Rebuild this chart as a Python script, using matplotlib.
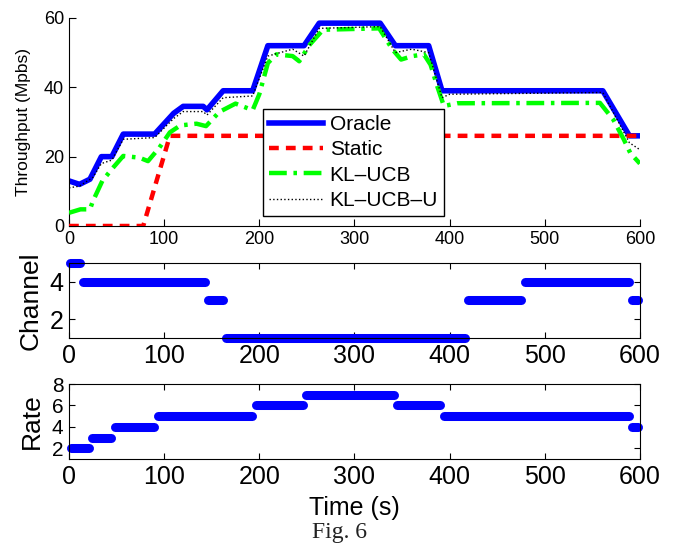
import numpy as np
import matplotlib
matplotlib.use('Agg')
import matplotlib.pyplot as plt

plt.rcParams['font.family'] = ['Liberation Sans', 'DejaVu Sans']

# throughput curves (time s, Mbps)
oracle_t = [0, 11, 22, 34, 45, 57, 90, 100, 110, 120, 141, 145, 162, 193, 209, 247, 263, 327, 343, 378, 392, 561, 589, 600]
oracle_v = [13, 12, 13.5, 20, 20, 26.5, 26.5, 29.5, 32.5, 34.5, 34.5, 33.5, 39, 39, 52, 52, 58.5, 58.5, 52, 52, 39, 39, 26, 26]

static_t = [0, 78, 106, 600]
static_v = [0, 0, 26, 26]

klucb_t = [0, 12, 22, 25, 35, 45, 57, 74, 83, 95, 106, 117, 134, 144, 158, 175, 193, 200, 209, 218,
           235, 242, 253, 267, 326, 340, 349, 361, 373, 380, 387, 394, 408, 558, 572, 583, 590, 600]
klucb_v = [3.8, 4.8, 4.8, 7.1, 13, 16.4, 20.2, 19.7, 18.7, 22.6, 27, 29, 29.5, 28.8, 32.9, 35.3, 33.4, 38, 47, 49.5,
           49, 47.5, 52.3, 56.6, 57, 50.9, 48, 49, 49.5, 46.5, 40.3, 34.6, 35.4, 35.5, 30.7, 25, 21, 18]

klucbu_t = [0, 11, 25, 34, 45, 57, 90, 110, 120, 141, 145, 162, 193, 209, 235, 247, 263, 327, 343, 360, 378, 392, 400, 561, 589, 600]
klucbu_v = [11, 11.5, 14, 18, 19, 25, 25.5, 31, 33, 33, 32, 37, 37.5, 49, 51, 49, 57, 57.5, 50, 51, 50, 37, 38, 38.5, 24, 22]

# chosen channel: (start, end, channel)
chan_start = [1, 15, 146, 165, 419, 479, 592]
chan_end = [12, 143, 162, 416, 475, 589, 598]
chan_val = [5, 4, 3, 1, 3, 4, 3]

# chosen rate index
rate_start = [2, 24, 48, 93, 196, 249, 345, 394, 592]
rate_end = [21, 44, 89, 192, 246, 342, 390, 589, 598]
rate_val = [2, 3, 4, 5, 6, 7, 6, 5, 4]

xticks = [0, 100, 200, 300, 400, 500, 600]

fig = plt.figure(figsize=(6.74, 5.44), dpi=100)
ax0 = fig.add_axes([0.1024, 0.5846, 0.847, 0.3824])
ax1 = fig.add_axes([0.1024, 0.3787, 0.847, 0.1379])
ax2 = fig.add_axes([0.1024, 0.1562, 0.847, 0.1379])

ax0.plot(oracle_t, oracle_v, '-', color='#0000ff', lw=4, label='Oracle', zorder=2)
ax0.plot(static_t, static_v, '--', color='#ff0000', lw=3.2, dashes=(2.2, 1.6), label='Static', zorder=3)
ax0.plot(klucb_t, klucb_v, '-.', color='#00ff00', lw=3.2, dashes=(4, 1.5, 0.8, 1.5), label='KL\u2013UCB', zorder=4)
ax0.plot(klucbu_t, klucbu_v, ':', color='k', lw=1, label='KL\u2013UCB\u2013U', zorder=5)
ax0.set_xlim(0, 600)
ax0.set_ylim(0, 60)
ax0.set_xticks(xticks)
ax0.set_yticks([0, 20, 40, 60])
ax0.spines['top'].set_visible(False)
ax0.spines['right'].set_visible(False)
ax0.tick_params(direction='in', length=5, labelsize=13)
ax0.set_ylabel('Throughput (Mpbs)', fontsize=12.5, labelpad=9)
leg = ax0.legend(loc='upper left', bbox_to_anchor=(0.3398, 0.5625), fontsize=15, frameon=True,
                 fancybox=False, edgecolor='k', framealpha=1, handlelength=2.6, borderpad=0.3,
                 labelspacing=0.3, handletextpad=0.3, borderaxespad=0)
leg.get_frame().set_linewidth(1)

for s, e, c in zip(chan_start, chan_end, chan_val):
    ax1.plot([s, e], [c, c], '-', color='#0000ff', lw=6.5, solid_capstyle='round', clip_on=False)
ax1.set_xlim(0, 600)
ax1.set_ylim(1, 5)
ax1.set_xticks(xticks)
ax1.set_yticks([2, 4])
ax1.tick_params(direction='in', length=4, labelsize=18, pad=4, top=True, right=True)
ax1.set_ylabel('Channel', fontsize=19, labelpad=5)

for s, e, r in zip(rate_start, rate_end, rate_val):
    ax2.plot([s, e], [r, r], '-', color='#0000ff', lw=6.5, solid_capstyle='round', clip_on=False)
ax2.set_xlim(0, 600)
ax2.set_ylim(1, 8)
ax2.set_xticks(xticks)
ax2.set_yticks([2, 4, 6, 8])
ax2.tick_params(direction='in', length=4, pad=4, top=True, right=True)
ax2.tick_params(axis='x', labelsize=18)
ax2.tick_params(axis='y', labelsize=15)
ax2.set_ylabel('Rate', fontsize=19, labelpad=6)
ax2.set_xlabel('Time (s)', fontsize=18, labelpad=5)

fig.text(0.503, 0.022, 'Fig. 6', family=['Liberation Serif', 'DejaVu Serif'], fontsize=17, ha='center', va='center', color='#222222')

fig.savefig('out.png', dpi=100)
